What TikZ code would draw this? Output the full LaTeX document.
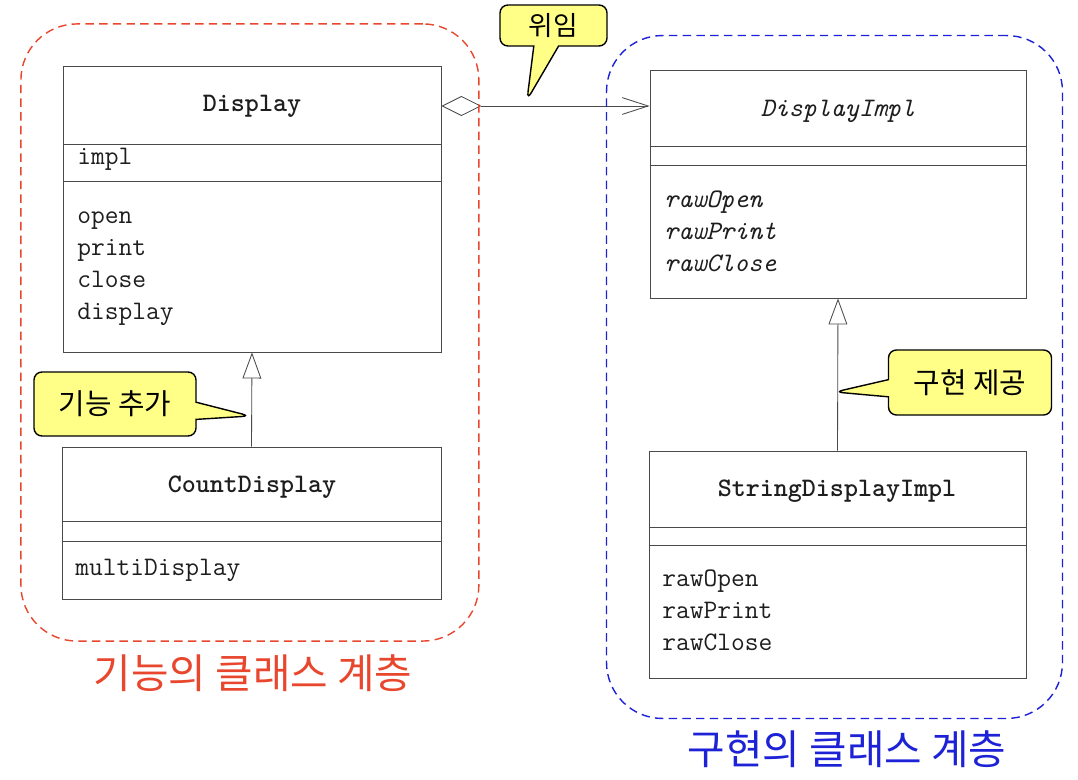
\documentclass[tikz,border=0pt]{standalone}
\usepackage{fontspec}
\newfontfamily\kofont{Noto Sans CJK KR}
\usetikzlibrary{positioning, arrows.meta, shapes.callouts, fit}
\definecolor{umlgray}{HTML}{4A4A4A}
\definecolor{textgray}{HTML}{1E1E1E}
\definecolor{groupred}{HTML}{E8472E}
\definecolor{groupblue}{HTML}{1E22D6}
\definecolor{noteyellow}{HTML}{FFFF88}
\tikzset{classbox/.style={draw=umlgray, line width=0.6pt, inner sep=0pt},
         classname/.style={font=\ttfamily\bfseries\fontsize{19}{23}\selectfont, text=textgray},
         member/.style={font=\ttfamily\fontsize{19}{23}\selectfont, text=textgray, anchor=mid west, inner sep=0pt},
         abstractmember/.style={member, font=\ttfamily\itshape\fontsize{19}{23}\selectfont},
         note/.style={rectangle callout, draw=black, line width=1pt, fill=noteyellow, rounded corners=0.2cm,
                      font=\kofont\fontsize{20.5}{24}\selectfont, inner sep=0pt},
         groupframe/.style={draw, line width=1pt, dash pattern=on 6pt off 3.75pt, rounded corners=1.4cm,
                            inner xsep=0.975cm, inner ysep=1.04cm},
         grouplabel/.style={font=\kofont\fontsize{29}{34}\selectfont},
        }

\begin{document}
\begin{tikzpicture}[x=0.025cm, y=-0.025cm]
        \fill[white] (0,0) rectangle (1078,780);
        \useasboundingbox (0,0) rectangle (1078,780);

        % classes
        \node[classbox, minimum width=9.45cm, minimum height=7.15cm](display)at(252,209){};
        \node[classbox, minimum width=9.475cm, minimum height=3.8cm](countdisplay)at(251.5,523){};
        \node[classbox, minimum width=9.4cm, minimum height=5.7cm](displayimpl)at(838,184){};
        \node[classbox, minimum width=9.425cm, minimum height=5.675cm](stringimpl)at(837.5,564.5){};

        \foreach \c/\y in {display/144, display/181, countdisplay/521, countdisplay/541,
                           displayimpl/146, displayimpl/165, stringimpl/527, stringimpl/545}
            \draw[umlgray, line width=0.6pt](\c.west |- 0,\y)--(\c.east |- 0,\y);

        \node[classname](dname)at(252,106){Display};
        \node[classname](cname)at(252,487){CountDisplay};
        \node[classname, font=\ttfamily\itshape\fontsize{19}{23}\selectfont](diname)at(838,111){DisplayImpl};
        \node[classname](sname)at(837,491){StringDisplayImpl};

        \node[member](impl)at(77,161){impl};
        \foreach \m [count=\i] in {open,print,close,display}
            \node[member](dm\i)at(77,188+32*\i){\m};
        \node[member](multi)at(75,572){multiDisplay};
        \foreach \m [count=\i] in {rawOpen,rawPrint,rawClose}
            \node[abstractmember](dim\i)at(664,172+32*\i){\m};
        \foreach \m [count=\i] in {rawOpen,rawPrint,rawClose}
            \node[member](sm\i)at(662,551+32*\i){\m};

        % relations
        \draw[umlgray, line width=0.6pt, {Diamond[open, length=1cm, width=0.5cm]}-{Straight Barb[length=0.65cm, width=0.42cm]}]
            (display.east |- dname)--(displayimpl.west |- dname);
        \draw[umlgray, line width=0.6pt, -{Triangle[open, length=0.65cm, width=0.47cm]}](countdisplay.north)--(display.south);
        \draw[umlgray, line width=0.6pt, -{Triangle[open, length=0.65cm, width=0.47cm]}](stringimpl.north)--(displayimpl.south);

        % groups
        \node[groupframe, draw=groupred, fit=(display)(countdisplay), xshift=-0.04cm](funcframe){};
        \node[groupframe, draw=groupblue, fit=(displayimpl)(stringimpl), inner ysep=0.925cm,
              xshift=-0.075cm, yshift=-0.075cm](implframe){};
        \node[grouplabel, text=groupred](funclabel)at(253,673){기능의 클래스 계층};
        \node[grouplabel, text=groupblue](impllabel)at(847,749){구현의 클래스 계층};

        % notes
        \coordinate(delegtip)at(527,100);
        \coordinate(addtip)at(250,416);
        \coordinate(providetip)at(835,392);
        \node[note, minimum width=2.675cm, minimum height=1.025cm, callout pointer width=0.62cm,
              font=\kofont\fontsize{19}{23}\selectfont,
              callout absolute pointer=(delegtip)](delegnote)at(553.5,25.5){위임};
        \node[note, minimum width=4.05cm, minimum height=1.6cm, callout pointer width=0.43cm,
              callout absolute pointer=(addtip)](addnote)at(115,404){기능 추가};
        \node[note, minimum width=4.075cm, minimum height=1.625cm, callout pointer width=0.43cm,
              callout absolute pointer=(providetip)](providenote)at(970,382.5){구현 제공};
    \end{tikzpicture}
\end{document}
